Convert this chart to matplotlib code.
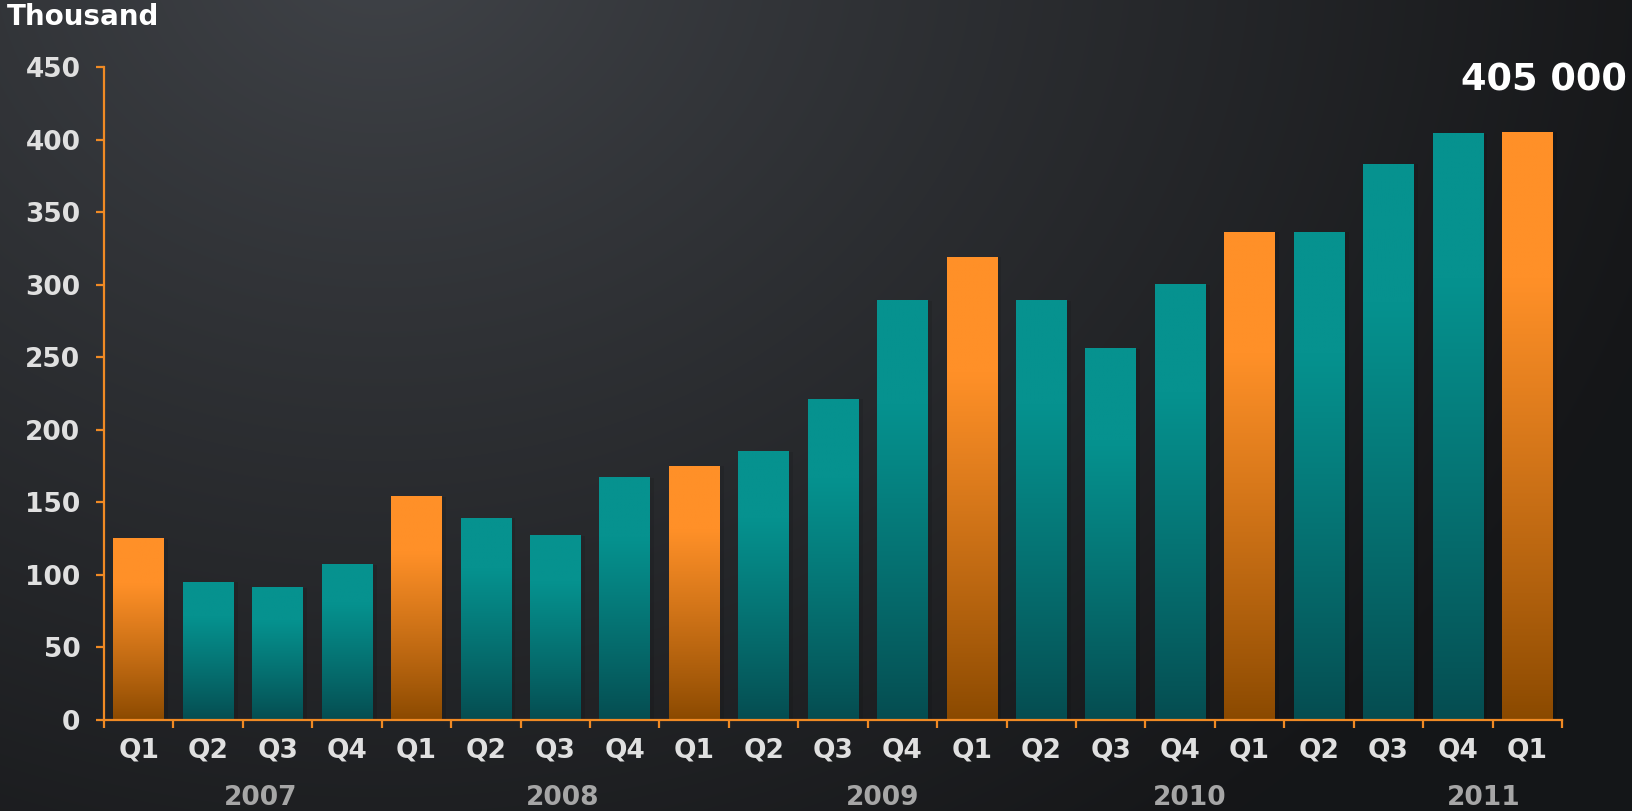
import numpy as np
import matplotlib
matplotlib.use("Agg")
import matplotlib.pyplot as plt
from matplotlib.colors import to_rgb
import matplotlib.transforms as mtransforms

quarters = ["Q1", "Q2", "Q3", "Q4", "Q1", "Q2", "Q3", "Q4", "Q1", "Q2", "Q3", "Q4",
            "Q1", "Q2", "Q3", "Q4", "Q1", "Q2", "Q3", "Q4", "Q1"]
values = [125, 95, 91, 107, 154, 139, 127, 167, 175, 185, 221, 289,
          319, 289, 256, 300, 336, 336, 383, 404, 405]
years = ["2007", "2008", "2009", "2010", "2011"]
year_pos = [1.75, 6.11, 10.72, 15.14, 19.37]
yticks = [0, 50, 100, 150, 200, 250, 300, 350, 400, 450]

W, H = 1633, 811
fig = plt.figure(figsize=(W / 100, H / 100), dpi=100)

# background radial gradient
bg = fig.add_axes([0, 0, 1, 1], zorder=-10)
yy, xx = np.mgrid[0:H, 0:W]
d = np.sqrt((xx - 380.0) ** 2 + ((yy + 60.0) * 1.2) ** 2) / 1350.0
d = np.clip(d, 0, 1)
c0 = np.array(to_rgb("#414449"))
c1 = np.array(to_rgb("#151618"))
img = c0 + (c1 - c0) * (d[..., None] ** 0.9)
bg.imshow(img, aspect="auto", extent=[0, 1, 0, 1], origin="upper")
bg.axis("off")

ax = fig.add_axes([104 / W, 1 - 720 / H, 1458 / W, 653 / H])
ax.set_facecolor("none")

orange_top, orange_bot = np.array(to_rgb("#ff9028")), np.array(to_rgb("#8a4900"))
teal_top, teal_bot = np.array(to_rgb("#06928f")), np.array(to_rgb("#054c50"))

bw = 0.73
n = 200
for i, v in enumerate(values):
    if quarters[i] == "Q1":
        top, bot = orange_top, orange_bot
    else:
        top, bot = teal_top, teal_bot
    t = np.linspace(0, 1, n)
    f = np.clip(t / 0.75, 0, 1) ** 0.9
    col = bot + (top - bot) * f[:, None]
    grad = col[::-1][:, None, :]
    # soft shadow
    ax.bar(i + 0.03, v, width=bw + 0.06, bottom=0, color="black", alpha=0.09,
           zorder=1, linewidth=0)
    ax.imshow(grad, aspect="auto", extent=[i - bw / 2, i + bw / 2, 0, v],
              zorder=2, interpolation="bilinear")

ax.set_xlim(-0.5, len(values) - 0.5)
ax.set_ylim(0, 450)

spine_col = "#f08a24"
for s in ["top", "right"]:
    ax.spines[s].set_visible(False)
for s in ["left", "bottom"]:
    ax.spines[s].set_color(spine_col)
    ax.spines[s].set_linewidth(1.6)

ax.set_yticks(yticks)
ax.set_yticklabels([str(t) for t in yticks])
ax.tick_params(axis="y", colors=spine_col, length=6, width=1.6, pad=11,
               labelcolor="#e0e0e0", labelsize=19)
for lab in ax.get_yticklabels():
    lab.set_fontweight("bold")

ax.set_xticks(np.arange(-0.5, len(values), 1.0))
ax.set_xticklabels([])
ax.tick_params(axis="x", which="major", colors=spine_col, length=6, width=1.6)
ax.set_xticks(np.arange(len(values)), minor=True)
ax.set_xticklabels(quarters, minor=True)
ax.tick_params(axis="x", which="minor", length=0, pad=12.5, labelcolor="#e0e0e0",
               labelsize=19)
for lab in ax.get_xticklabels(minor=True):
    lab.set_fontweight("bold")

trans = mtransforms.blended_transform_factory(ax.transData, fig.transFigure)
for yr, xp in zip(years, year_pos):
    ax.text(xp, 1 - 798 / H, yr, transform=trans, ha="center", va="center",
            fontsize=19, fontweight="bold", color="#a6a6a6", clip_on=False)

fig.text(7 / W, 1 - 17 / H, "Thousand", ha="left", va="center", fontsize=20,
         fontweight="bold", color="white")

last = values[-1] * 1000
label = f"{last:,}".replace(",", " ")
fig.text(1461 / W, 1 - 80 / H, label, ha="left", va="center", fontsize=26.5,
         fontweight="bold", color="white")

fig.savefig("out.png", dpi=100)
